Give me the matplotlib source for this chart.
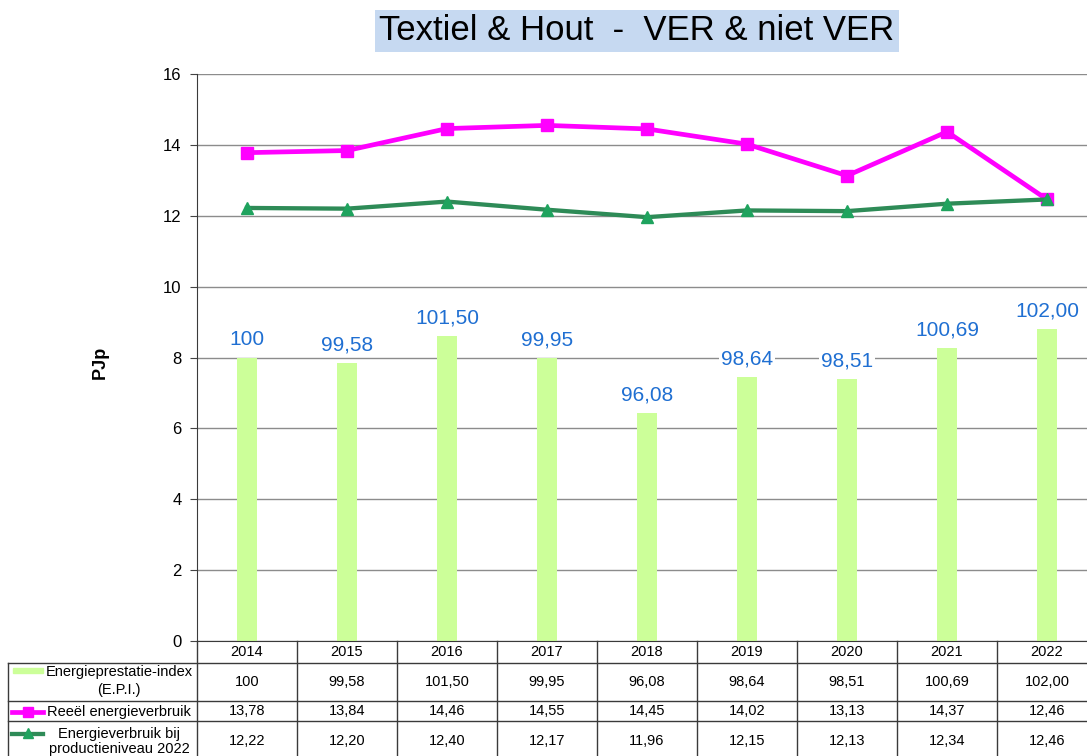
import matplotlib.pyplot as plt
from matplotlib import transforms
from matplotlib.lines import Line2D
from matplotlib.patches import Rectangle

plt.rcParams['font.family'] = ['Liberation Sans', 'DejaVu Sans']

jaren = ['2014', '2015', '2016', '2017', '2018', '2019', '2020', '2021', '2022']
epi = [100, 99.58, 101.50, 99.95, 96.08, 98.64, 98.51, 100.69, 102.00]
reeel = [13.78, 13.84, 14.46, 14.55, 14.45, 14.02, 13.13, 14.37, 12.46]
prod2022 = [12.22, 12.20, 12.40, 12.17, 11.96, 12.15, 12.13, 12.34, 12.46]

rij_labels = ['Energieprestatie-index\n(E.P.I.)',
              'Reeël energieverbruik',
              'Energieverbruik bij\nproductieniveau 2022']

KLEUR_BAR = '#CCFF99'
KLEUR_REEEL = '#FF00FF'
KLEUR_PROD = '#2E8B57'
KLEUR_DRIEHOEK = '#1FA35E'
KLEUR_LABEL = '#1F6FD2'


def fmt(v):
    return f"{v:.2f}".replace('.', ',')


epi_txt = [fmt(v) for v in epi]
epi_txt[0] = '100'  # basisjaar

W, H = 1087, 756
fig = plt.figure(figsize=(W / 100, H / 100), dpi=100)


def fy(px):
    # pixel vanaf boven -> figuurfractie
    return 1 - px / H


ax = fig.add_axes([197 / W, fy(641), 900 / W, 567 / H])
axb = ax.twinx()
ax.set_zorder(axb.get_zorder() + 1)
ax.patch.set_visible(False)

x = list(range(len(jaren)))

# EPI-staven op eigen (verborgen) schaal 80..120
axb.bar(x, epi, width=0.2, color=KLEUR_BAR, zorder=2)
axb.set_ylim(80, 120)
axb.set_yticks(range(80, 121, 5))
axb.set_axisbelow(True)
axb.yaxis.grid(True, color='#8c8c8c', linewidth=1)
axb.tick_params(axis='y', right=False, labelright=False)
for s in axb.spines.values():
    s.set_visible(False)
for xi, v, t in zip(x, epi, epi_txt):
    axb.annotate(t, (xi, v), xytext=(0, 13), textcoords='offset points',
                 ha='center', va='center', fontsize=15, color=KLEUR_LABEL,
                 bbox=dict(facecolor='white', edgecolor='none', pad=1.5),
                 zorder=4)

ax.plot(x, reeel, color=KLEUR_REEEL, linewidth=3.4, marker='s', markersize=8,
        zorder=3, clip_on=False)
ax.plot(x, prod2022, color=KLEUR_PROD, linewidth=3.1, marker='^', markersize=8,
        markerfacecolor=KLEUR_DRIEHOEK, markeredgecolor=KLEUR_DRIEHOEK,
        zorder=3, clip_on=False)

ax.set_xlim(-0.5, len(jaren) - 0.5)
ax.set_ylim(0, 16)
ax.set_yticks(range(0, 17, 2))
ax.set_xticks([])
ax.tick_params(axis='y', direction='out', length=5, color='#444444',
               labelsize=12, pad=6)
ax.spines['top'].set_visible(False)
ax.spines['right'].set_visible(False)
ax.spines['left'].set_color('#3a3a3a')
ax.spines['bottom'].set_color('#3a3a3a')

fig.text(100 / W, fy(362), 'PJp', rotation=90, fontsize=13,
         fontweight='bold', ha='center', va='center')

fig.text(637 / W, fy(31), 'Textiel & Hout  -  VER & niet VER', fontsize=25,
         ha='center', va='center',
         bbox=dict(facecolor='#C6D9F1', edgecolor='none', pad=3))

# datatabel onder de grafiek
tr = transforms.blended_transform_factory(ax.transData, fig.transFigure)
lijn = dict(color='#3a3a3a', linewidth=1)
for yy in (663, 701, 721):
    fig.add_artist(Line2D([8 / W, 1.0], [fy(yy), fy(yy)],
                          transform=fig.transFigure, **lijn))
fig.add_artist(Line2D([8 / W, 8 / W], [fy(663), fy(760)],
                      transform=fig.transFigure, **lijn))
for i in range(len(jaren) + 1):
    fig.add_artist(Line2D([i - 0.5, i - 0.5], [fy(641), fy(760)],
                          transform=tr, **lijn))

rij_y = [682, 711, 741]
for xi, j, a, b, c in zip(x, jaren, epi_txt, reeel, prod2022):
    fig.text(xi, fy(652), j, transform=tr, ha='center', va='center', fontsize=10.5)
    fig.text(xi, fy(rij_y[0]), a, transform=tr, ha='center', va='center', fontsize=10.5)
    fig.text(xi, fy(rij_y[1]), fmt(b), transform=tr, ha='center', va='center', fontsize=10.5)
    fig.text(xi, fy(rij_y[2]), fmt(c), transform=tr, ha='center', va='center', fontsize=10.5)

for lab, yy, ls in zip(rij_labels, [681, 712, 741.5], [1.45, 1.0, 1.15]):
    fig.text(119 / W, fy(yy), lab, ha='center', va='center', fontsize=10.5,
             linespacing=ls)

# legendasymbolen in de rijkoppen
fig.add_artist(Rectangle((13 / W, fy(673)), 30 / W, 5 / H,
                         transform=fig.transFigure, color=KLEUR_BAR))
fig.add_artist(Line2D([12 / W, 43 / W], [fy(712), fy(712)],
                      transform=fig.transFigure, color=KLEUR_REEEL,
                      linewidth=3.4))
fig.add_artist(Line2D([28 / W], [fy(712)], transform=fig.transFigure,
                      color=KLEUR_REEEL, marker='s', markersize=7))
fig.add_artist(Line2D([12 / W, 43 / W], [fy(734), fy(734)],
                      transform=fig.transFigure, color=KLEUR_PROD,
                      linewidth=3.1))
fig.add_artist(Line2D([28 / W], [fy(733)], transform=fig.transFigure,
                      color=KLEUR_DRIEHOEK, marker='^', markersize=7))

fig.savefig('out.png', dpi=100)
